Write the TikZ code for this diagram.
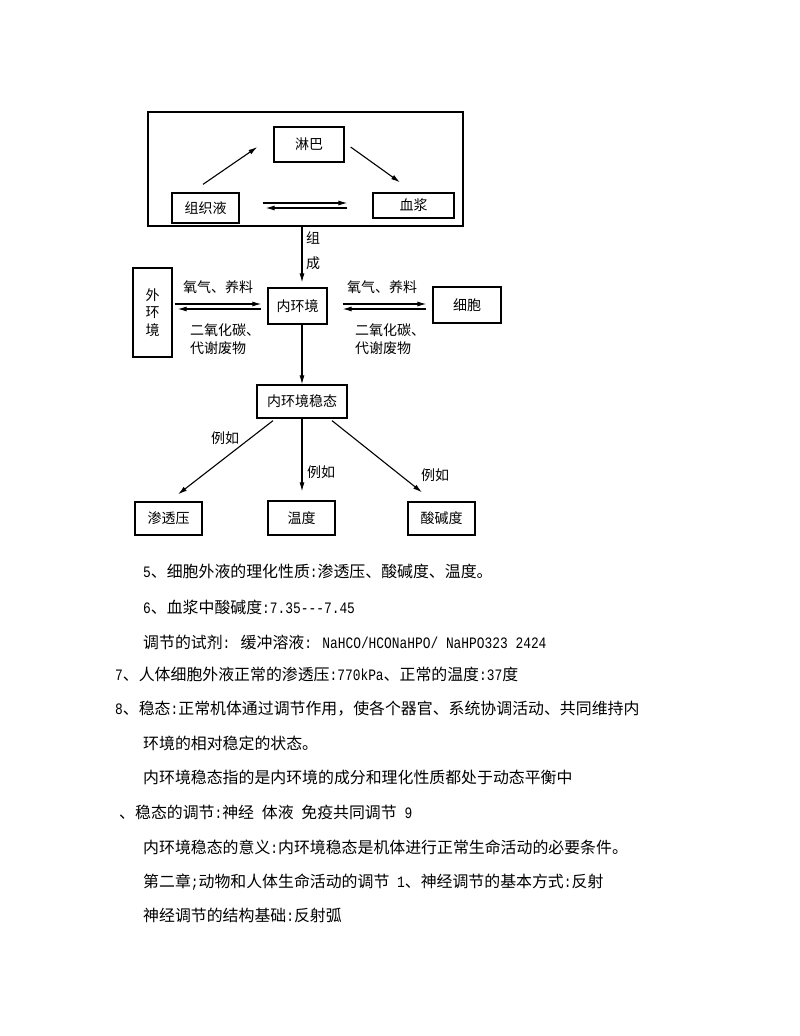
\documentclass[tikz,border=0pt]{standalone}
\usepackage{fontspec}
\setmainfont{Noto Sans CJK SC}
\newfontfamily\latnfont[FakeStretch=0.81]{Liberation Mono}
\usetikzlibrary{arrows.meta}
\newcommand\latn[1]{{\latnfont\fontsize{15.9}{15.9}\selectfont #1}}
\begin{document}
\begin{tikzpicture}[x=1pt,y=-1pt,
  box/.style={draw, line width=1.3pt, inner sep=0pt, font=\fontsize{14}{14}\selectfont},
  arr/.style={line width=1.1pt, -{Latex[length=9pt,width=5pt]}},
  lbl/.style={inner sep=0pt, font=\fontsize{14}{14}\selectfont},
  txt/.style={anchor=base west, inner sep=0pt, font=\fontsize{15.9}{15.9}\selectfont}]
\useasboundingbox (0,0) rectangle (800,1036);
\fill[white] (0,0) rectangle (800,1036);

% boxes
\node[box, minimum width=315pt, minimum height=114pt] (outer) at (305.5,169) {};
\node[box, minimum width=70pt, minimum height=35pt] (lymph) at (309,144.5) {淋巴};
\node[box, minimum width=67pt, minimum height=30pt] (tissue) at (205.5,208) {组织液};
\node[box, minimum width=81pt, minimum height=25pt] (plasma) at (413.5,205.5) {血浆};
\node[box, minimum width=39pt, minimum height=89pt, align=center, font=\fontsize{14}{17.5}\selectfont] (env) at (152.5,312.5) {外\\环\\境};
\node[box, minimum width=59pt, minimum height=36pt] (inner) at (297.5,306) {内环境};
\node[box, minimum width=68pt, minimum height=36pt] (cell) at (467,305) {细胞};
\node[box, minimum width=90pt, minimum height=33pt] (homeo) at (302,401.5) {内环境稳态};
\node[box, minimum width=67pt, minimum height=33pt] (osm) at (168.5,518.5) {渗透压};
\node[box, minimum width=67pt, minimum height=34pt] (temp) at (301.5,518) {温度};
\node[box, minimum width=67pt, minimum height=33pt] (acid) at (441.5,518.5) {酸碱度};

% arrows in top frame
\draw[arr] ([xshift=-2.5pt,yshift=8pt]tissue.north) -- ([xshift=-16pt,yshift=-2.5pt]lymph.west);
\draw[arr] ([xshift=6pt,yshift=-2.5pt]lymph.east) -- ([xshift=-13.5pt,yshift=10pt]plasma.north);
\draw[arr] ([xshift=23pt,yshift=5pt]tissue.east) -- ([xshift=-25pt,yshift=2.5pt]plasma.west);
\draw[arr] ([xshift=-25pt,yshift=-2.5pt]plasma.west) -- ([xshift=26pt]tissue.east);

% composition
\draw[arr] ([xshift=-3.5pt]outer.south) -- ([xshift=4.5pt,yshift=5pt]inner.north);
\node[lbl, align=center, font=\fontsize{14}{25}\selectfont] (zc) at (313,250.5) {组\\成};

% exchange arrows
\draw[arr] ([xshift=2pt,yshift=8.5pt]env.east) -- ([xshift=-6pt,yshift=2pt]inner.west);
\draw[arr] ([xshift=-6pt,yshift=-3pt]inner.west) -- ([xshift=5pt,yshift=3.5pt]env.east);
\draw[arr] ([xshift=15pt,yshift=2pt]inner.east) -- ([xshift=-6pt,yshift=1pt]cell.west);
\draw[arr] ([xshift=-6pt,yshift=-4pt]cell.west) -- ([xshift=15pt,yshift=-3pt]inner.east);
\node[lbl] (lo) at (218,287) {氧气、养料};
\node[lbl, anchor=west, align=left, font=\fontsize{14}{18}\selectfont] (lc) at (190,339) {二氧化碳、\\代谢废物};
\node[lbl] (ro) at (382,287) {氧气、养料};
\node[lbl, anchor=west, align=left, font=\fontsize{14}{18}\selectfont] (rc) at (355,339) {二氧化碳、\\代谢废物};

% homeostasis
\draw[arr] ([xshift=4.5pt]inner.south) -- (homeo.north);
\draw[arr] ([xshift=-29pt,yshift=-2pt]homeo.south) -- ([xshift=9.5pt,yshift=7pt]osm.north);
\draw[arr] (homeo.south) -- ([xshift=0.5pt,yshift=9pt]temp.north);
\draw[arr] ([xshift=30pt,yshift=-2pt]homeo.south) -- ([xshift=-19.5pt,yshift=9pt]acid.north);
\node[lbl] (e1) at (225,438) {例如};
\node[lbl, anchor=west] (e2) at (307,472) {例如};
\node[lbl] (e3) at (435,475) {例如};

% body text
\node[txt] (t1) at (143,577) {\latn{5}、细胞外液的理化性质\latn{:}渗透压、酸碱度、温度。};
\node[txt] (t2) at (143,613) {\latn{6}、血浆中酸碱度\latn{:7.35-{}-{}-7.45}};
\node[txt] (t3) at (143,648) {调节的试剂\latn{: }缓冲溶液\latn{: NaHCO/HCONaHPO/ NaHPO323 2424}};
\node[txt] (t4) at (115,680) {\latn{7}、人体细胞外液正常的渗透压\latn{:770kPa}、正常的温度\latn{:37}度};
\node[txt] (t5) at (115,714) {\latn{8}、稳态\latn{:}正常机体通过调节作用，使各个器官、系统协调活动、共同维持内};
\node[txt] (t6) at (143,749) {环境的相对稳定的状态。};
\node[txt] (t7) at (143,783) {内环境稳态指的是内环境的成分和理化性质都处于动态平衡中};
\node[txt] (t8) at (119,818) {、稳态的调节\latn{:}神经\latn{ }体液\latn{ }免疫共同调节\latn{ 9}};
\node[txt] (t9) at (143,853) {内环境稳态的意义\latn{:}内环境稳态是机体进行正常生命活动的必要条件。};
\node[txt] (t10) at (143,887) {第二章\latn{;}动物和人体生命活动的调节\latn{ 1}、神经调节的基本方式\latn{:}反射};
\node[txt] (t11) at (143,921) {神经调节的结构基础\latn{:}反射弧};
\end{tikzpicture}
\end{document}
